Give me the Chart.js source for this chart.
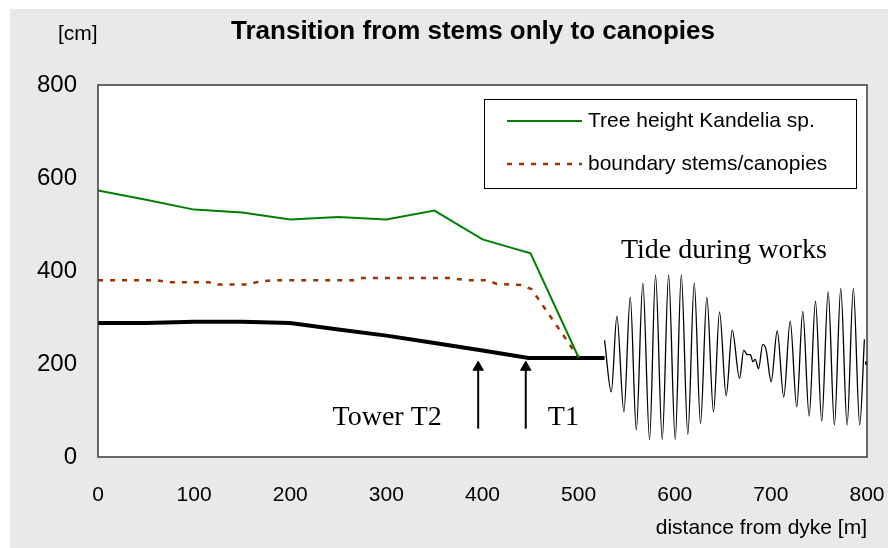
<!DOCTYPE html>
<html>
<head>
<meta charset="utf-8">
<script src="https://cdn.jsdelivr.net/npm/chart.js@4.4.1/dist/chart.umd.min.js"></script>
<style>
html, body { margin: 0; padding: 0; background: #fff; }
#wrap { width: 888px; height: 548px; }
</style>
</head>
<body>
<div id="wrap"><canvas id="grafico" width="888" height="548"></canvas></div>
<script>
// -----------------------------
// DATA
// -----------------------------
const xTicks = [0, 100, 200, 300, 400, 500, 600, 700, 800];
const yTicks = [0, 200, 400, 600, 800];

// tree height Kandelia sp. [cm] vs distance from dyke [m]
const treeX = [0, 50, 100, 150, 200, 250, 300, 350, 400, 450, 500];
const treeY = [573, 553, 532, 526, 511, 516, 511, 530, 468, 438, 214];

// boundary between stems and canopies
const boundaryX = [0, 60, 75, 115, 125, 155, 165, 180, 265, 275, 365, 385, 405, 415, 440, 451, 500];
const boundaryY = [380, 380, 376, 376, 371, 371, 376, 380, 380, 385, 385, 380, 380, 372, 370, 361, 214];

// ground level
const groundX = [0, 50, 100, 150, 200, 250, 300, 350, 400, 448, 527];
const groundY = [288, 288, 291, 291, 288, 274, 261, 245, 229, 213, 213];

// tide during works (peaks and troughs)
const tideX = [527.0, 534.0, 539.8, 547.1, 553.7, 560.0, 566.8, 573.8, 580.0, 587.0,
               593.6, 600.5, 606.8, 613.6, 620.3, 626.8, 633.4, 640.3, 646.6, 653.5,
               659.8, 667.4, 671.8, 675.4, 678.8, 681.2, 683.7, 687.1, 691.6, 695.1,
               700.3, 706.6, 713.4, 720.1, 726.9, 733.2, 739.8, 746.4, 752.9, 759.6,
               766.1, 772.7, 779.3, 785.8, 792.4, 797.3];
const tideY = [251, 140, 303, 97, 344, 58, 374, 38, 391, 38,
               391, 38, 391, 49, 374, 72, 344, 97, 312, 132,
               273, 169, 230, 220, 220, 205, 210, 190, 242, 230,
               162, 271, 129, 292, 108, 313, 88, 335, 77, 355,
               69, 362, 69, 362, 69, 253];
const tideEndX = [800];
const tideEndY = [202];

// tower arrows
const arrowX = [395.5, 445];
const arrowBottom = [61, 61];
const arrowTop = [193, 193];

// text notes: [text, x, y]
const notes = [
    ["Tower T2", 244, 69],
    ["T1", 468, 69],
    ["Tide during works", 544, 429]
];

function puntos(xs, ys) {
    return xs.map((x, i) => ({ x, y: ys[i] }));
}

// -----------------------------
// PLUGINS
// -----------------------------
const fondo = {
    id: "fondo",
    beforeDraw(chart) {
        const c = chart.ctx;
        const a = chart.chartArea;
        c.save();
        c.fillStyle = "#ffffff";
        c.fillRect(0, 0, chart.width, chart.height);
        c.fillStyle = "#e9e9e9";
        c.fillRect(10, 9, chart.width - 10, chart.height - 9);
        c.fillStyle = "#ffffff";
        c.fillRect(a.left, a.top, a.right - a.left, a.bottom - a.top);

        c.fillStyle = "#000";
        c.font = "bold 26px 'Liberation Sans', Arial, sans-serif";
        c.textAlign = "center";
        c.textBaseline = "alphabetic";
        c.fillText("Transition from stems only to canopies", 473, 39);

        c.font = "21px 'Liberation Sans', Arial, sans-serif";
        c.textAlign = "left";
        c.fillText("[cm]", 58, 40);

        c.font = "21px 'Liberation Sans', Arial, sans-serif";
        c.textAlign = "right";
        c.fillText("distance from dyke [m]", 867, 534);
        c.restore();
    },
    afterDraw(chart) {
        const c = chart.ctx;
        const a = chart.chartArea;
        const sx = chart.scales.x, sy = chart.scales.y;
        c.save();
        c.strokeStyle = "#3a3a3a";
        c.lineWidth = 1.5;
        c.strokeRect(a.left, a.top, a.right - a.left, a.bottom - a.top);

        // notes
        c.fillStyle = "#000";
        c.font = "28px 'Liberation Serif', 'Times New Roman', serif";
        c.textAlign = "left";
        c.textBaseline = "alphabetic";
        for (const [t, x, y] of notes) {
            c.fillText(t, sx.getPixelForValue(x), sy.getPixelForValue(y));
        }

        // legend
        const bx = a.right - 383, by = a.top + 14, bw = 372, bh = 89;
        c.fillStyle = "#fff";
        c.fillRect(bx, by, bw, bh);
        c.strokeStyle = "#000";
        c.lineWidth = 1;
        c.strokeRect(bx + 0.5, by + 0.5, bw, bh);
        c.font = "21px 'Liberation Sans', Arial, sans-serif";
        c.textBaseline = "middle";
        const ds = chart.data.datasets.slice(0, 2);
        ds.forEach((d, i) => {
            const ly = by + 22 + i * 43;
            c.strokeStyle = d.borderColor;
            c.lineWidth = d.borderWidth;
            c.setLineDash(d.borderDash || []);
            c.beginPath();
            c.moveTo(bx + 23, ly);
            c.lineTo(bx + 98, ly);
            c.stroke();
            c.setLineDash([]);
            c.fillStyle = "#000";
            c.fillText(d.label, bx + 104, ly);
        });
        c.restore();
    }
};

// -----------------------------
// CHART
// -----------------------------
const linea = (label, data, color, ancho, extra) => Object.assign({
    label,
    data,
    borderColor: color,
    backgroundColor: color,
    borderWidth: ancho,
    pointRadius: 0,
    fill: false,
    tension: 0
}, extra || {});

const datasets = [
    linea("Tree height Kandelia sp.", puntos(treeX, treeY), "#008000", 2),
    linea("boundary stems/canopies", puntos(boundaryX, boundaryY), "#993300", 2.5, { borderDash: [5, 7] }),
    linea("ground", puntos(groundX, groundY), "#000000", 4),
    linea("tide", puntos(tideX, tideY), "#000000", 1.3, { cubicInterpolationMode: "monotone" }),
    linea("tide end", puntos(tideEndX, tideEndY), "#000000", 1, { pointRadius: 2, pointStyle: "rect", showLine: false })
];

arrowX.forEach((x, i) => {
    datasets.push(linea("arrow", [{ x, y: arrowBottom[i] }, { x, y: arrowTop[i] }], "#000000", 2, {
        pointRadius: [0, 6],
        pointStyle: "triangle",
        pointBorderWidth: 1
    }));
});

const grafico = new Chart(document.getElementById("grafico"), {
    type: "line",
    data: { datasets },
    options: {
        responsive: false,
        devicePixelRatio: 1,
        animation: false,
        layout: { padding: { left: 0, right: 21, top: 85, bottom: 0 } },
        plugins: {
            legend: { display: false },
            tooltip: { enabled: false },
            title: { display: false }
        },
        scales: {
            x: {
                type: "linear",
                min: 0,
                max: 800,
                afterBuildTicks: s => { s.ticks = xTicks.map(v => ({ value: v })); },
                afterFit: s => {
                    s.height = 91;
                    s.paddingLeft = 0;
                    s.paddingRight = 0;
                },
                grid: { display: false },
                border: { display: false },
                ticks: {
                    padding: 18,
                    color: "#000",
                    maxRotation: 0,
                    font: { family: "'Liberation Sans', Arial, sans-serif", size: 21 }
                }
            },
            y: {
                type: "linear",
                min: 0,
                max: 800,
                afterBuildTicks: s => { s.ticks = yTicks.map(v => ({ value: v })); },
                afterFit: s => {
                    s.width = 98;
                    s.paddingTop = 0;
                    s.paddingBottom = 0;
                },
                grid: { display: false },
                border: { display: false },
                ticks: {
                    padding: 13,
                    color: "#000",
                    font: { family: "'Liberation Sans', Arial, sans-serif", size: 24 }
                }
            }
        }
    },
    plugins: [fondo]
});
</script>
</body>
</html>
